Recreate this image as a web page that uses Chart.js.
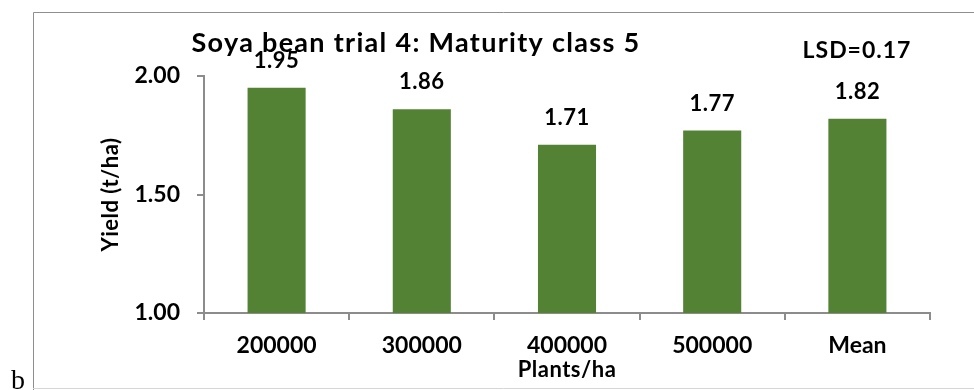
<!DOCTYPE html>
<html>
<head>
<meta charset="utf-8">
<title>Soya bean trial 4</title>
<script src="https://cdn.jsdelivr.net/npm/chart.js@4.4.1/dist/chart.umd.min.js"></script>
<style>
  html, body { margin: 0; padding: 0; background: #fff; }
  #wrap { width: 974px; height: 390px; position: relative; }
</style>
</head>
<body>
<div id="wrap"><canvas id="yield_chart" width="974" height="390"></canvas></div>
<script>
// Plant density categories and mean yields (t/ha)
const densities = ["200000", "300000", "400000", "500000", "Mean"];
const yields = [1.95, 1.86, 1.71, 1.77, 1.82];
const yTicks = [1.0, 1.5, 2.0];

const chartTitle = "Soya bean trial 4: Maturity class 5";
const lsdText = "LSD=0.17";
const xTitle = "Plants/ha";
const yTitle = "Yield (t/ha)";
const panelLetter = "b";

const FONT = "Lato, 'Liberation Sans', sans-serif";
const AXIS_GREY = "#8c8c8c";

// Frame, titles, LSD note and value labels drawn straight on the canvas
const annotations = {
  id: "annotations",
  afterDraw(chart) {
    const ctx = chart.ctx;
    const area = chart.chartArea;
    const meta = chart.getDatasetMeta(0);
    ctx.save();

    // outer frame
    ctx.strokeStyle = "#8f8f8f";
    ctx.lineWidth = 1;
    ctx.beginPath();
    ctx.moveTo(33.5, 390);
    ctx.lineTo(33.5, 12.5);
    ctx.lineTo(974, 12.5);
    ctx.stroke();
    ctx.strokeStyle = "#d6d6d6";
    ctx.beginPath();
    ctx.moveTo(33, 388.5);
    ctx.lineTo(974, 388.5);
    ctx.stroke();

    ctx.fillStyle = "#000";
    ctx.textAlign = "center";
    ctx.textBaseline = "alphabetic";

    ctx.font = "bold 27px " + FONT;
    ctx.letterSpacing = "1.3px";
    ctx.fillText(chartTitle, 416, 52);

    ctx.font = "bold 23px " + FONT;
    ctx.letterSpacing = "1px";
    ctx.fillText(lsdText, 857, 58);

    // value labels above each bar
    ctx.font = "bold 22px " + FONT;
    ctx.letterSpacing = "0.5px";
    meta.data.forEach((bar, i) => {
      ctx.fillText(yields[i].toFixed(2), bar.x, bar.y - 20);
    });

    // axis titles
    ctx.font = "bold 22px " + FONT;
    ctx.letterSpacing = "0.5px";
    ctx.fillText(xTitle, (area.left + area.right) / 2, 377);

    ctx.save();
    ctx.translate(118, (area.top + area.bottom) / 2);
    ctx.rotate(-Math.PI / 2);
    ctx.font = "bold 22px " + FONT;
    ctx.fillText(yTitle, 0, 0);
    ctx.restore();

    ctx.letterSpacing = "0px";
    ctx.textAlign = "left";
    ctx.font = "28px 'Liberation Serif', serif";
    ctx.fillText(panelLetter, 11, 389);

    ctx.restore();
  }
};

new Chart(document.getElementById("yield_chart"), {
  type: "bar",
  data: {
    labels: densities,
    datasets: [{
      data: yields,
      backgroundColor: "#548235",
      categoryPercentage: 1,
      barPercentage: 0.4
    }]
  },
  options: {
    responsive: false,
    animation: false,
    layout: { padding: { top: 76, right: 44, left: 0, bottom: 0 } },
    plugins: {
      legend: { display: false },
      tooltip: { enabled: false }
    },
    scales: {
      x: {
        grid: {
          display: true,
          drawOnChartArea: false,
          drawTicks: true,
          tickLength: 7,
          color: AXIS_GREY,
          lineWidth: 2
        },
        border: { display: true, color: AXIS_GREY, width: 2 },
        ticks: {
          color: "#000",
          font: { family: FONT, size: 23, weight: "bold" },
          padding: 12,
          maxRotation: 0
        },
        afterFit: (scale) => { scale.height = 77; }
      },
      y: {
        min: yTicks[0],
        max: yTicks[yTicks.length - 1],
        afterBuildTicks: (scale) => { scale.ticks = yTicks.map(v => ({ value: v })); },
        grid: {
          display: true,
          drawOnChartArea: false,
          drawTicks: true,
          tickLength: 7,
          color: AXIS_GREY,
          lineWidth: 2
        },
        border: { display: true, color: AXIS_GREY, width: 2 },
        ticks: {
          color: "#000",
          font: { family: FONT, size: 23, weight: "bold" },
          padding: 17,
          callback: (v) => Number(v).toFixed(2)
        },
        afterFit: (scale) => { scale.width = 204; }
      }
    }
  },
  plugins: [annotations]
});
</script>
</body>
</html>
